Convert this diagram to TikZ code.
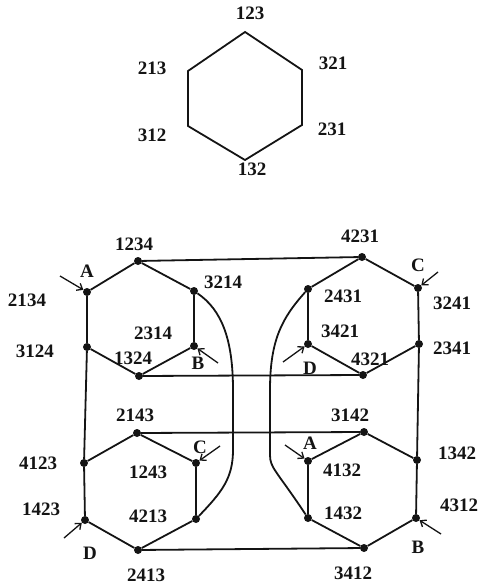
\documentclass[tikz,border=0pt]{standalone}
\usepackage{fontspec}
\setmainfont{Liberation Serif}
\usetikzlibrary{arrows.meta}
\definecolor{cInk}{RGB}{20,20,20}
\tikzset{
  %% vertices of the big graph
  pdot/.style={circle, fill=cInk, inner sep=0pt, minimum size=8pt},
  %% permutation labels
  plabel/.style={font=\fontsize{19}{21}\selectfont\bfseries, text=cInk, inner sep=0pt},
  %% letters at the entry points
  ptag/.style={plabel},
  %% lines
  pedge/.style={draw=cInk, line width=1.8pt},
  pentry/.style={draw=cInk, line width=1.3pt,
                 -{Straight Barb[length=5pt, width=8pt]}},
}
\begin{document}
\begin{tikzpicture}[x=1pt, y=-1pt]
\useasboundingbox (0,0) rectangle (480,588);

%% ============================================================
%%  SMALL HEXAGON (permutations of 123)
%% ============================================================
\coordinate (t123) at (245, 32);
\coordinate (t321) at (302, 70);
\coordinate (t231) at (302,125);
\coordinate (t132) at (245,160);
\coordinate (t312) at (188,126);
\coordinate (t213) at (188, 71);
\draw[pedge] (t123) -- (t321) -- (t231) -- (t132) -- (t312) -- (t213) -- cycle;

\node[plabel] (l123) at (250, 13) {123};
\node[plabel] (l321) at (333, 63) {321};
\node[plabel] (l231) at (332,129) {231};
\node[plabel] (l132) at (252,169) {132};
\node[plabel] (l312) at (152,135) {312};
\node[plabel] (l213) at (152, 68) {213};

%% ============================================================
%%  BIG GRAPH: four hexagons
%% ============================================================
%% ----- upper left -----
\node[pdot] (p1234) at (138,261) {};
\node[pdot] (p3214) at (194,291) {};
\node[pdot] (p2314) at (194,346) {};
\node[pdot] (p1324) at (139,376) {};
\node[pdot] (p3124) at ( 87,347) {};
\node[pdot] (p2134) at ( 87,292) {};

%% ----- upper right -----
\node[pdot] (p4231) at (362,257) {};
\node[pdot] (p3241) at (418,288) {};
\node[pdot] (p2341) at (419,344) {};
\node[pdot] (p4321) at (363,375) {};
\node[pdot] (p3421) at (308,344) {};
\node[pdot] (p2431) at (308,289) {};

%% ----- lower left -----
\node[pdot] (p2143) at (137,433) {};
\node[pdot] (p1243) at (196,463) {};
\node[pdot] (p4213) at (196,519) {};
\node[pdot] (p2413) at (138,550) {};
\node[pdot] (p1423) at ( 85,520) {};
\node[pdot] (p4123) at ( 84,463) {};

%% ----- lower right -----
\node[pdot] (p3142) at (364,432) {};
\node[pdot] (p1342) at (417,460) {};
\node[pdot] (p4312) at (416,518) {};
\node[pdot] (p3412) at (364,548) {};
\node[pdot] (p1432) at (308,518) {};
\node[pdot] (p4132) at (308,461) {};

%% ----- hexagon edges -----
\draw[pedge] (p1234) -- (p3214) -- (p2314) -- (p1324) -- (p3124) -- (p2134) -- (p1234);
\draw[pedge] (p4231) -- (p3241) -- (p2341) -- (p4321) -- (p3421) -- (p2431) -- (p4231);
\draw[pedge] (p2143) -- (p1243) -- (p4213) -- (p2413) -- (p1423) -- (p4123) -- (p2143);
\draw[pedge] (p3142) -- (p1342) -- (p4312) -- (p3412) -- (p1432) -- (p4132) -- (p3142);

%% ----- links between hexagons -----
\draw[pedge] (p1234) -- (p4231);
\draw[pedge] (p1324) -- (p4321);
\draw[pedge] (p2143) -- (p3142);
\draw[pedge] (p2413) -- (p3412);
\draw[pedge] (p3124) -- (p4123);
\draw[pedge] (p2341) -- (p1342);
\draw[pedge] (p3214) .. controls (222,310) and (233,340) .. (233,390)
  -- (233,450) .. controls (233,478) and (222,492) .. (p4213);
\draw[pedge] (p2431) .. controls (282,318) and (270,340) .. (270,390)
  -- (270,455) .. controls (270,468) and (276,470) .. (p1432);

%% ============================================================
%%  ENTRY ARROWS + LETTERS
%% ============================================================
\coordinate (sA1) at ( 60,276);
\coordinate (sB1) at (218,363);
\coordinate (sC1) at (438,272);
\coordinate (sD1) at (283,362);
\coordinate (sC2) at (220,446);
\coordinate (sD2) at ( 64,538);
\coordinate (sA2) at (285,445);
\coordinate (sB2) at (441,534);
\draw[pentry] (sA1) -- (p2134);
\draw[pentry] (sB1) -- (p2314);
\draw[pentry] (sC1) -- (p3241);
\draw[pentry] (sD1) -- (p3421);
\draw[pentry] (sC2) -- (p1243);
\draw[pentry] (sD2) -- (p1423);
\draw[pentry] (sA2) -- (p4132);
\draw[pentry] (sB2) -- (p4312);

\node[ptag] (tA1) at ( 87,271) {A};
\node[ptag] (tB1) at (198,363) {B};
\node[ptag] (tC1) at (418,265) {C};
\node[ptag] (tD1) at (310,368) {D};
\node[ptag] (tC2) at (200,447) {C};
\node[ptag] (tD2) at ( 90,553) {D};
\node[ptag] (tA2) at (310,443) {A};
\node[ptag] (tB2) at (418,547) {B};

%% ============================================================
%%  PERMUTATION LABELS
%% ============================================================
\node[plabel] (l1234) at (134,244) {1234};
\node[plabel] (l2134) at ( 27,300) {2134};
\node[plabel] (l3214) at (223,282) {3214};
\node[plabel] (l2314) at (153,333) {2314};
\node[plabel] (l3124) at ( 35,351) {3124};
\node[plabel] (l1324) at (133,358) {1324};

\node[plabel] (l4231) at (360,236) {4231};
\node[plabel] (l2431) at (343,296) {2431};
\node[plabel] (l3241) at (452,303) {3241};
\node[plabel] (l3421) at (340,331) {3421};
\node[plabel] (l2341) at (452,348) {2341};
\node[plabel] (l4321) at (370,359) {4321};

\node[plabel] (l2143) at (135,415) {2143};
\node[plabel] (l4123) at ( 38,463) {4123};
\node[plabel] (l1243) at (148,472) {1243};
\node[plabel] (l1423) at ( 41,509) {1423};
\node[plabel] (l4213) at (148,516) {4213};
\node[plabel] (l2413) at (146,575) {2413};

\node[plabel] (l3142) at (350,415) {3142};
\node[plabel] (l4132) at (342,470) {4132};
\node[plabel] (l1342) at (457,453) {1342};
\node[plabel] (l1432) at (343,513) {1432};
\node[plabel] (l4312) at (459,505) {4312};
\node[plabel] (l3412) at (353,573) {3412};

\end{tikzpicture}
\end{document}
